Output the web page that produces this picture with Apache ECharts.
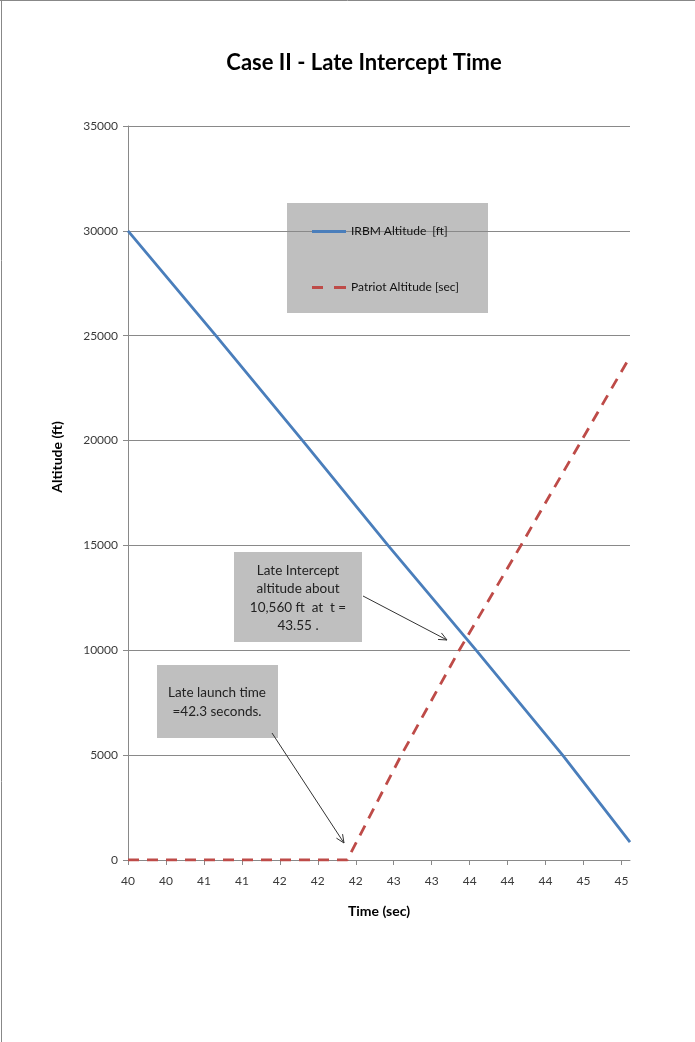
<!DOCTYPE html>
<html>
<head>
<meta charset="utf-8">
<script src="https://cdn.jsdelivr.net/npm/echarts@6/dist/echarts.min.js"></script>
<style>html,body{margin:0;padding:0;background:#fff;}#c{width:695px;height:1042px;}</style>
</head>
<body>
<div id="c"></div>
<script>
// ---- data ----
const irbmTime = [40, 40.926, 41.84, 42.74, 43.67, 44.58, 45.29];
const irbmAlt = [30000, 25000, 20000, 15000, 10000, 5000, 850];
const patriotTime = [40, 42.31, 42.88, 43.49, 44.14, 45.29];
const patriotAlt = [0, 0, 5000, 10000, 15000, 24000];
const xTickValues = [40, 40.4, 40.8, 41.2, 41.6, 42, 42.4, 42.8, 43.2, 43.6, 44, 44.4, 44.8, 45.2];
const xTickLabels = ['40','40','41','41','42','42','42','43','43','44','44','44','45','45'];
const seriesNames = ['IRBM Altitude  [ft]', 'Patriot Altitude [sec]'];
const titleText = 'Case II - Late Intercept Time';
const xName = 'Time (sec)';
const yName = 'Altitude (ft)';
const note1 = ['Late Intercept', 'altitude about', '10,560 ft  at  t =', '43.55 .'];
const note2 = ['Late launch time', '=42.3 seconds.'];

const chart = echarts.init(document.getElementById('c'), null, {renderer: 'canvas'});
const FONT = 'Lato, "Open Sans", sans-serif';
const GRID = '#898989';

function arrow(x1, y1, x2, y2) {
  const a = Math.atan2(y2 - y1, x2 - x1);
  const L = 9, w = 0.42;
  const p1 = [x2 - L * Math.cos(a - w), y2 - L * Math.sin(a - w)];
  const p2 = [x2 - L * Math.cos(a + w), y2 - L * Math.sin(a + w)];
  return [
    {type: 'line', shape: {x1, y1, x2, y2}, style: {stroke: '#333', lineWidth: 1}, z: 100},
    {type: 'polyline', shape: {points: [p1, [x2, y2], p2]}, style: {stroke: '#333', lineWidth: 1, fill: null}, z: 100}
  ];
}

const tsFmt = {fontFamily: FONT, fontSize: 13.5, fill: '#222'};

chart.setOption({
  animation: false,
  backgroundColor: '#fff',
  title: {
    text: titleText, left: 359, top: 47, textAlign: 'center',
    textStyle: {fontFamily: FONT, fontSize: 22, fontWeight: 'bold', color: '#000'}
  },
  grid: {left: 128, right: 65, top: 126, bottom: 182, containLabel: false},
  legend: {
    orient: 'vertical', left: 312, top: 225.5, itemWidth: 34, itemHeight: 3, itemGap: 44,
    padding: 0,
    data: [
      {name: seriesNames[0], icon: 'path://M0,0h34v3h-34z'},
      {name: seriesNames[1], icon: 'path://M0,0h11v3h-11z M22,0h12v3h-12z'}
    ],
    textStyle: {fontFamily: FONT, fontSize: 12, color: '#111'}
  },
  xAxis: {
    type: 'value', min: 40, max: 45.29,
    name: xName, nameLocation: 'middle', nameGap: 44,
    nameTextStyle: {fontFamily: FONT, fontSize: 14, fontWeight: 'bold', color: '#000'},
    axisLine: {show: true, onZero: false, lineStyle: {color: GRID, width: 1}},
    axisTick: {show: true, length: 5, customValues: xTickValues, lineStyle: {color: GRID}},
    axisLabel: {
      customValues: xTickValues, margin: 15,
      fontFamily: FONT, fontSize: 12, color: '#3a3a3a',
      formatter: function (v) {
        const i = xTickValues.findIndex(t => Math.abs(t - v) < 1e-6);
        return i >= 0 ? xTickLabels[i] : '';
      }
    },
    splitLine: {show: false}
  },
  yAxis: {
    type: 'value', min: 0, max: 35000, interval: 5000,
    axisLine: {show: true, lineStyle: {color: GRID, width: 1}},
    axisTick: {show: true, length: 5, lineStyle: {color: GRID}},
    axisLabel: {margin: 10, fontFamily: FONT, fontSize: 12, color: '#3a3a3a', formatter: v => String(v)},
    splitLine: {show: true, lineStyle: {color: GRID, width: 1}}
  },
  series: [
    {
      name: seriesNames[0], type: 'line', showSymbol: false, symbol: 'none',
      data: irbmTime.map((t, i) => [t, irbmAlt[i]]),
      lineStyle: {color: '#4a7ebb', width: 2.8}, itemStyle: {color: '#4a7ebb'}, z: 3
    },
    {
      name: seriesNames[1], type: 'line', showSymbol: false, symbol: 'none',
      data: patriotTime.map((t, i) => [t, patriotAlt[i]]),
      lineStyle: {color: '#be4b48', width: 2.8, type: [11, 8]}, itemStyle: {color: '#be4b48'}, z: 4
    }
  ],
  graphic: [
    {type: 'line', shape: {x1: 0, y1: 0.5, x2: 695, y2: 0.5}, style: {stroke: '#888', lineWidth: 1}, z: 200},
    {type: 'line', shape: {x1: 1.5, y1: 0, x2: 1.5, y2: 1042}, style: {stroke: '#888', lineWidth: 1}, z: 200},
    {type: 'rect', shape: {x: 287, y: 203, width: 201, height: 110}, style: {fill: '#bfbfbf'}, z: -1, zlevel: 0},
    {type: 'rect', shape: {x: 234, y: 552, width: 128, height: 90}, style: {fill: '#bfbfbf'}, z: 90},
    {type: 'text', x: 298, y: 561, style: Object.assign({text: note1.join('\n'), textAlign: 'center', lineHeight: 18.5}, tsFmt), z: 91},
    {type: 'rect', shape: {x: 157, y: 665, width: 121, height: 73}, style: {fill: '#bfbfbf'}, z: 90},
    {type: 'text', x: 217, y: 683, style: Object.assign({text: note2.join('\n'), textAlign: 'center', lineHeight: 19}, tsFmt), z: 91},
    {type: 'text', x: 57, y: 457, rotation: Math.PI / 2, style: {text: yName, textAlign: 'center', textVerticalAlign: 'middle', fontFamily: FONT, fontSize: 14, fontWeight: 'bold', fill: '#000'}, z: 91}
  ].concat(arrow(363, 596, 447, 640), arrow(272, 733, 344, 843))
});
</script>
</body>
</html>
